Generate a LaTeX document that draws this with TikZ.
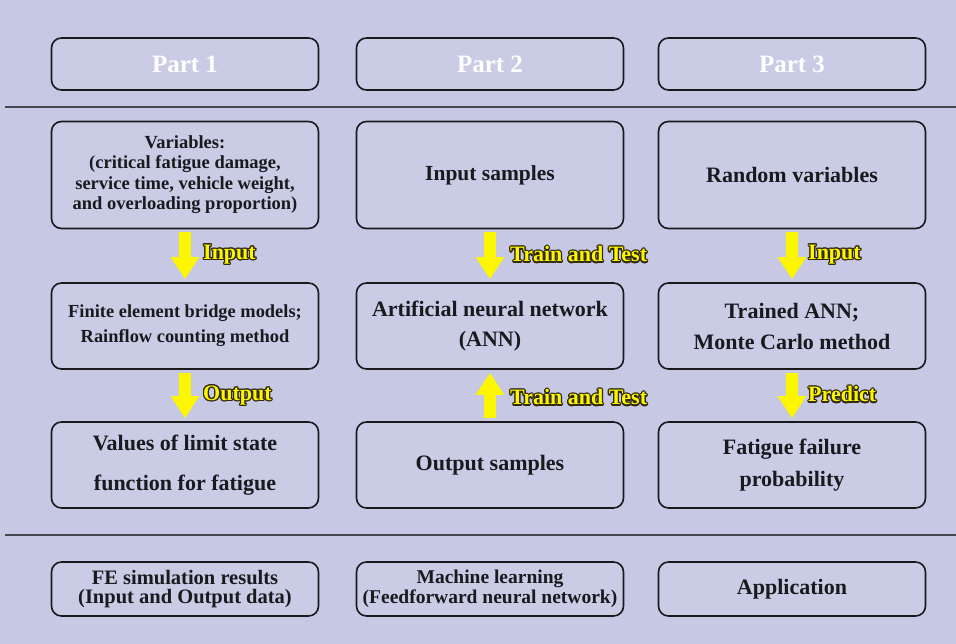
\documentclass[tikz,border=0pt]{standalone}
\usepackage{fontspec}
\setmainfont{Liberation Serif}
\usepackage{contour}
\contourlength{1.2pt}
\contournumber{16}
\usetikzlibrary{arrows.meta,calc}
\definecolor{bg}{RGB}{198,200,228}
\definecolor{boxfill}{RGB}{202,204,230}
\definecolor{ink}{RGB}{25,25,30}
\definecolor{rule}{RGB}{70,70,80}
\definecolor{flow}{RGB}{252,246,0}
\definecolor{tagink}{RGB}{50,42,12}
\tikzset{
  panel/.style={draw=ink, line width=1.6pt, rounded corners=10pt, fill=boxfill,
    minimum width=267pt, align=center, text=ink, inner sep=2pt},
  head/.style={panel, minimum height=52pt, text=white, font=\fontsize{25}{28}\selectfont\bfseries},
  tall/.style={panel, minimum height=107pt},
  mid/.style={panel, minimum height=86pt},
  foot/.style={panel, minimum height=54pt},
  flowarrow/.style={draw=flow, line width=12pt, shorten <=3pt, shorten >=3pt,
    -{Triangle[width=27pt,length=22pt]}},
  tag/.style={anchor=west, inner sep=0pt, font=\fontsize{22}{24}\selectfont\bfseries},
}
% yellow lettering with a dark outline
\newcommand{\flowtag}[1]{\contour{tagink}{\textcolor{flow}{#1}}}
\begin{document}
\begin{tikzpicture}[x=1pt,y=-1pt]
  \fill[bg] (0,0) rectangle (956,644);
  \useasboundingbox (0,0) rectangle (956,644);

  % separators between the header, the flow charts and the summary row
  \draw[rule, line width=1.8pt] (5,107) -- (956,107);
  \draw[rule, line width=1.8pt] (5,535) -- (956,535);

  % header row
  \node[head] (h1) at (185,64) {Part 1};
  \node[head] (h2) at (490,64) {Part 2};
  \node[head] (h3) at (792,64) {Part 3};

  % column 1: FE simulation
  \node[tall, font=\fontsize{18.5}{20.5}\selectfont\bfseries] (a1) at (185,175)
    {\raisebox{8pt}{\begin{tabular}{@{}c@{}}Variables:\\(critical fatigue damage,\\service time, vehicle weight,\\and overloading proportion)\end{tabular}}};
  \node[mid, font=\fontsize{18.4}{25}\selectfont\bfseries] (a2) at (185,326)
    {Finite element bridge models;\\Rainflow counting method};
  \node[mid, font=\fontsize{22}{40}\selectfont\bfseries] (a3) at (185,465)
    {Values of limit state\\function for fatigue};

  % column 2: machine learning
  \node[tall, font=\fontsize{21.5}{24}\selectfont\bfseries] (b1) at (490,175) {Input samples};
  \node[mid, font=\fontsize{22}{30}\selectfont\bfseries] (b2) at (490,326)
    {Artificial neural network\\(ANN)};
  \node[mid, font=\fontsize{22}{24}\selectfont\bfseries] (b3) at (490,465) {Output samples};

  % column 3: application
  \node[tall, font=\fontsize{22}{24}\selectfont\bfseries] (c1) at (792,175) {Random variables};
  \node[mid, font=\fontsize{22}{31}\selectfont\bfseries] (c2) at (792,326)
    {Trained ANN;\\Monte Carlo method};
  \node[mid, font=\fontsize{22}{32}\selectfont\bfseries] (c3) at (792,465)
    {Fatigue failure\\probability};

  % summary row
  \node[foot, font=\fontsize{20.5}{19.5}\selectfont\bfseries] (f1) at (185,589)
    {FE simulation results\\(Input and Output data)};
  \node[foot, font=\fontsize{19.5}{19.5}\selectfont\bfseries] (f2) at (490,589)
    {Machine learning\\(Feedforward neural network)};
  \node[foot, font=\fontsize{22}{22}\selectfont\bfseries] (f3) at (792,589)
    {Application};

  % flow arrows
  \draw[flowarrow] (a1.south) -- (a2.north);
  \draw[flowarrow] (a2.south) -- (a3.north);
  \draw[flowarrow] (b1.south) -- (b2.north);
  \draw[flowarrow] (b3.north) -- (b2.south);
  \draw[flowarrow] (c1.south) -- (c2.north);
  \draw[flowarrow] (c2.south) -- (c3.north);

  % arrow labels
  \node[tag] (t1) at (203,255) {\flowtag{Input}};
  \node[tag] (t2) at (203,396) {\flowtag{Output}};
  \node[tag] (t3) at (510,255) {\flowtag{Train and Test}};
  \node[tag] (t4) at (510,398) {\flowtag{Train and Test}};
  \node[tag] (t5) at (808,255) {\flowtag{Input}};
  \node[tag] (t6) at (808,395) {\flowtag{Predict}};
\end{tikzpicture}
\end{document}
